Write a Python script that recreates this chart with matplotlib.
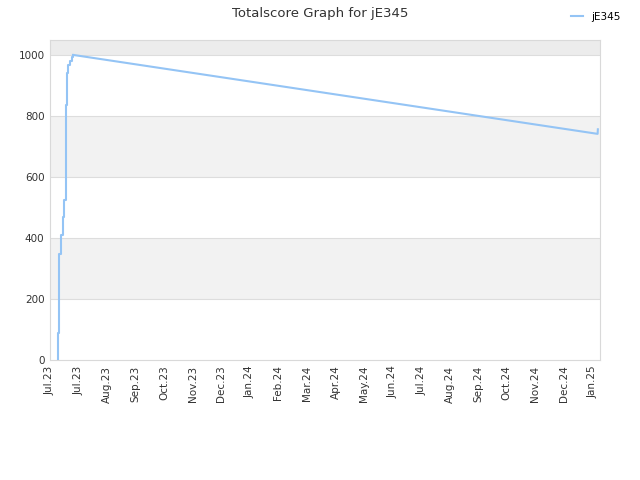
import matplotlib
matplotlib.use('Agg')
import matplotlib.pyplot as plt
import matplotlib.dates as mdates
import pandas as pd

# Totalscore history
dates = ["2023-07-09 00:00", "2023-07-09 03:00", "2023-07-10 05:00", "2023-07-12 07:00",
         "2023-07-14 10:00", "2023-07-15 17:00", "2023-07-17 19:00", "2023-07-18 22:00",
         "2023-07-20 07:00", "2023-07-22 00:00", "2023-07-23 19:00", "2023-07-25 12:00",
         "2025-01-26 12:00", "2025-01-26 18:00"]
scores = [0, 88, 347, 410, 470, 525, 838, 942, 967, 980, 993, 1001, 742, 757]
series_name = "jE345"

x_start = "2023-07-01"
x_end = "2025-01-29"
tick_step = "30D"
y_ticks = [0, 200, 400, 600, 800, 1000]

line_color = '#94c4f5'

fig = plt.figure(figsize=(6.4, 4.8), dpi=100)
ax = fig.add_axes([50 / 640, 1 - 360 / 480, 550 / 640, 320 / 480])

# alternating background bands
ax.axhspan(200, 400, color='#f2f2f2', zorder=0, lw=0)
ax.axhspan(600, 800, color='#f2f2f2', zorder=0, lw=0)
ax.axhspan(1000, 1050, color='#ececec', zorder=0, lw=0)
for y in y_ticks[1:]:
    ax.axhline(y, color='#dddddd', linewidth=0.8, zorder=1)

x = pd.to_datetime(dates, format='%Y-%m-%d %H:%M')
peak = scores.index(max(scores))
# stepwise climb, then a steady decline
ax.plot(x[:peak + 1], scores[:peak + 1], color=line_color, linewidth=1.5,
        drawstyle='steps-post', label=series_name, zorder=3)
ax.plot(x[peak:], scores[peak:], color=line_color, linewidth=1.5, zorder=3)

ax.set_xlim(pd.Timestamp(x_start), pd.Timestamp(x_end))
ax.set_ylim(0, 1050)
ax.set_yticks(y_ticks)
ax.set_xticks(pd.date_range(x_start, x_end, freq=tick_step))
ax.xaxis.set_major_formatter(mdates.DateFormatter('%b.%y'))
plt.setp(ax.get_xticklabels(), rotation=90)

ax.tick_params(length=0, labelsize=7.5, colors='#333333', pad=4)
for s in ax.spines.values():
    s.set_color('#d9d9d9')

fig.suptitle("Totalscore Graph for jE345", x=0.5, y=0.985, fontsize=9.5, color='#333333')
fig.legend(loc='upper right', bbox_to_anchor=(0.985, 0.995), frameon=False,
           fontsize=7.5, handlelength=1.2, handletextpad=0.8)

fig.savefig('out.png', dpi=100)
